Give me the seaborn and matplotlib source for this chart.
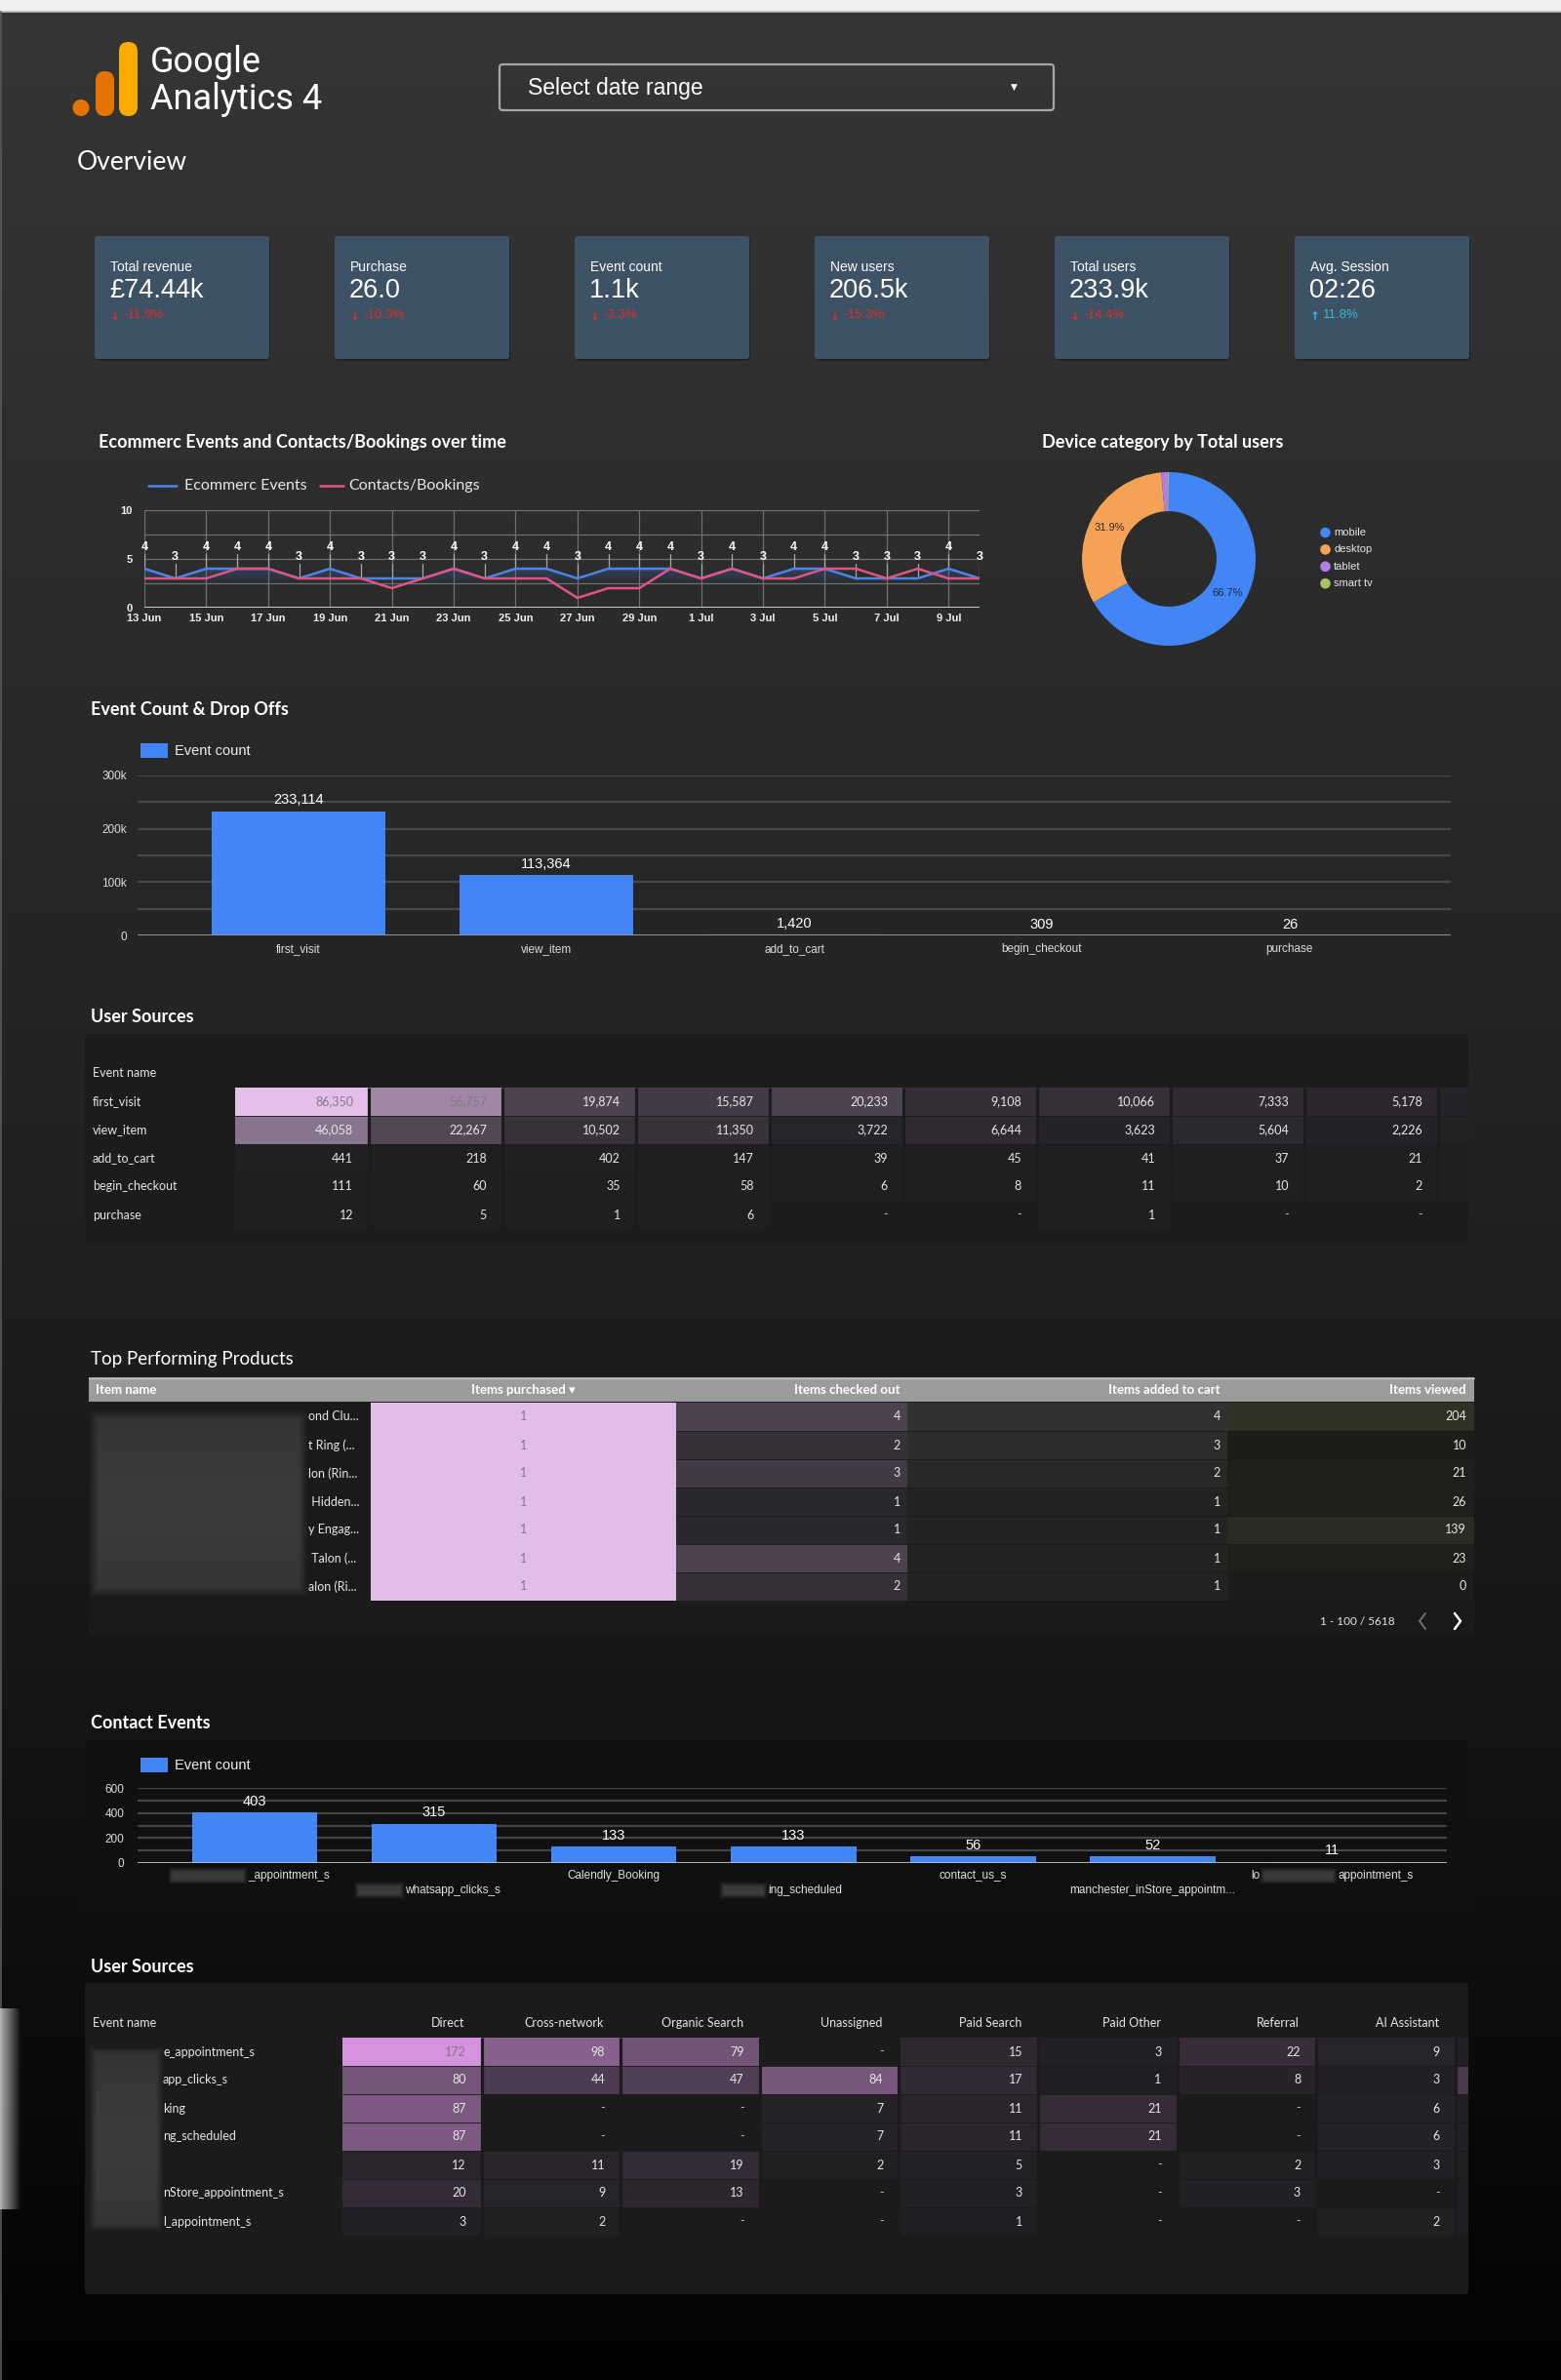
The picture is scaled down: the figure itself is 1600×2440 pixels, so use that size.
import numpy as np
import pandas as pd
import matplotlib
matplotlib.use("Agg")
import matplotlib.pyplot as plt
import seaborn as sns
from matplotlib.colors import LinearSegmentedColormap
from matplotlib.patches import FancyBboxPatch, Rectangle, Circle
from matplotlib.lines import Line2D

sns.set_theme(style="dark", rc={"axes.facecolor": "none", "figure.facecolor": "#050505",
                                "axes.edgecolor": "none", "patch.edgecolor": "none"})
plt.rcParams['font.family'] = ['Liberation Sans', 'DejaVu Sans']
plt.rcParams['axes.unicode_minus'] = False

nan = np.nan
# ---------------------------------------------------------------- data
kpi_labels = ["Total revenue", "Purchase", "Event count", "New users", "Total users", "Avg. Session"]
kpi_values = ["£74.44k", "26.0", "1.1k", "206.5k", "233.9k", "02:26"]
kpi_deltas = [-11.9, -10.3, -3.3, -15.3, -14.4, 11.8]

day_labels = ["13 Jun", "14 Jun", "15 Jun", "16 Jun", "17 Jun", "18 Jun", "19 Jun", "20 Jun",
              "21 Jun", "22 Jun", "23 Jun", "24 Jun", "25 Jun", "26 Jun", "27 Jun", "28 Jun",
              "29 Jun", "30 Jun", "1 Jul", "2 Jul", "3 Jul", "4 Jul", "5 Jul", "6 Jul",
              "7 Jul", "8 Jul", "9 Jul", "10 Jul"]
ecommerce_events = [4, 3, 4, 4, 4, 3, 4, 3, 3, 3, 4, 3, 4, 4, 3, 4, 4, 4, 3, 4, 3, 4, 4, 3, 3, 3, 4, 3]
contacts_bookings = [3, 3, 3, 4, 4, 3, 3, 3, 2, 3, 4, 3, 3, 3, 1, 2, 2, 4, 3, 4, 3, 3, 4, 4, 3, 4, 3, 3]

device_labels = ["mobile", "desktop", "tablet", "smart tv"]
device_share = [66.7, 31.9, 1.2, 0.2]

funnel_events = ["first_visit", "view_item", "add_to_cart", "begin_checkout", "purchase"]
funnel_counts = [233114, 113364, 1420, 309, 26]

src1_rows = ["first_visit", "view_item", "add_to_cart", "begin_checkout", "purchase"]
src1_first_visit = [86350, 56757, 19874, 15587, 20233, 9108, 10066, 7333, 5178, 3100]
src1_view_item = [46058, 22267, 10502, 11350, 3722, 6644, 3623, 5604, 2226, 1500]
src1_add_to_cart = [441, 218, 402, 147, 39, 45, 41, 37, 21, 15]
src1_begin_checkout = [111, 60, 35, 58, 6, 8, 11, 10, 2, 2]
src1_purchase = [12, 5, 1, 6, nan, nan, 1, nan, nan, nan]

product_headers = ["Item name", "Items purchased ▾", "Items checked out", "Items added to cart", "Items viewed"]
product_names = ["ond Clu...", "t Ring (...", "lon (Rin...", " Hidden...", "y Engag...", " Talon (...", "alon (Ri..."]
items_purchased = [1, 1, 1, 1, 1, 1, 1]
items_checked_out = [4, 2, 3, 1, 1, 4, 2]
items_added_to_cart = [4, 3, 2, 1, 1, 1, 1]
items_viewed = [204, 10, 21, 26, 139, 23, 0]
pagination = "1 - 100 / 5618"

contact_events = ["_appointment_s", "whatsapp_clicks_s", "Calendly_Booking", "ing_scheduled",
                  "contact_us_s", "manchester_inStore_appointm...", "appointment_s"]
contact_counts = [403, 315, 133, 133, 56, 52, 11]

src2_channels = ["Direct", "Cross-network", "Organic Search", "Unassigned", "Paid Search",
                 "Paid Other", "Referral", "AI Assistant", "Organic Social"]
src2_rows = ["e_appointment_s", "app_clicks_s", "king", "ng_scheduled", "",
             "nStore_appointment_s", "l_appointment_s"]
src2_r1 = [172, 98, 79, nan, 15, 3, 22, 9, 4]
src2_r2 = [80, 44, 47, 84, 17, 1, 8, 3, 40]
src2_r3 = [87, nan, nan, 7, 11, 21, nan, 6, 3]
src2_r4 = [87, nan, nan, 7, 11, 21, nan, 6, 3]
src2_r5 = [12, 11, 19, 2, 5, nan, 2, 3, 2]
src2_r6 = [20, 9, 13, nan, 3, nan, 3, nan, 1]
src2_r7 = [3, 2, nan, nan, 1, nan, nan, 2, 1]

# ---------------------------------------------------------------- helpers
W, H = 1600, 2440
fig = plt.figure(figsize=(W / 100, H / 100), dpi=100)
fig.patch.set_facecolor("#050505")


def px_ax(x, y, w, h):
    a = fig.add_axes([x / W, 1 - (y + h) / H, w / W, h / H])
    a.set_facecolor("none")
    return a


def canvas():
    a = px_ax(0, 0, W, H)
    a.set_xlim(0, W)
    a.set_ylim(H, 0)
    a.set_autoscale_on(False)
    a.axis("off")
    return a


BLUE = "#4285F4"
PINK = "#E0567F"

bg = canvas()
stops_y = [0, 12, 300, 700, 1050, 1400, 1750, 2050, 2350, 2440]
stops_g = [52, 53, 49, 42, 36, 29, 21, 13, 5, 3]
g = np.interp(np.arange(H), stops_y, stops_g) / 255.0
grad = np.repeat(g[:, None], 3, axis=1)[:, None, :]
bg.imshow(grad, extent=[0, W, H, 0], aspect="auto", interpolation="bilinear", zorder=0)
bg.add_patch(Rectangle((0, 0), W, 12, fc="#efefef", ec="none", zorder=1))
bg.plot([0, W], [12, 12], color="#bdbdbd", lw=1.2, zorder=2)
bg.plot([0.8, 0.8], [12, H], color="#5a5a5a", lw=1.2, zorder=2)
sh = np.zeros((10, 22, 4))
sh[..., :3] = 0.72
sh[..., 3] = np.linspace(0.95, 0.0, 22)[None, :]
bg.imshow(sh, extent=[0, 22, 2265, 2059], aspect="auto", interpolation="bilinear", zorder=2)

# KPI cards
for i in range(6):
    x = 97 + 246 * i
    bg.add_patch(FancyBboxPatch((x + 1, 244), 179, 126, boxstyle="round,pad=0,rounding_size=3",
                                fc="#1c1c1c", ec="none", alpha=0.6, zorder=2))
    bg.add_patch(FancyBboxPatch((x, 242), 179, 126, boxstyle="round,pad=0,rounding_size=3",
                                fc="#3e5266", ec="none", zorder=3))

# panels
bg.add_patch(FancyBboxPatch((87, 1060), 1418, 214, boxstyle="round,pad=0,rounding_size=3",
                            fc="#1c1c1c", ec="none", zorder=2))
bg.add_patch(Rectangle((91, 1437), 1420, 239, fc="#1a1a1a", ec="none", zorder=2))
bg.add_patch(Rectangle((91, 1412), 1420, 25, fc="#9b9b9b", ec="none", zorder=3))
bg.plot([91, 1511], [1412.5, 1412.5], color="#c4c4c4", lw=1, zorder=4)
bg.add_patch(FancyBboxPatch((87, 1783), 1418, 177, boxstyle="round,pad=0,rounding_size=3",
                            fc="#101010", ec="none", zorder=2))
bg.add_patch(FancyBboxPatch((87, 2033), 1418, 319, boxstyle="round,pad=0,rounding_size=3",
                            fc="#1b1b1b", ec="none", zorder=2))

# ---------------------------------------------------------------- line chart
ax = px_ax(148, 523, 856, 100)
xs = list(range(len(day_labels)))
sns.lineplot(x=xs, y=ecommerce_events, color="#4A86E8", lw=1.8, ax=ax, legend=False, zorder=4)
sns.lineplot(x=xs, y=contacts_bookings, color=PINK, lw=1.8, ax=ax, legend=False, zorder=5)
poly = ax.fill_between(xs, ecommerce_events, 0, facecolor="none", edgecolor="none")
gcm = LinearSegmentedColormap.from_list("g", [(0.26, 0.45, 0.85, 0.0), (0.26, 0.45, 0.85, 0.33)])
im = ax.imshow(np.linspace(0, 1, 128).reshape(-1, 1), extent=[0, 27, 2.4, 4.2], origin="lower",
               aspect="auto", cmap=gcm, zorder=2)
im.set_clip_path(poly.get_paths()[0], transform=ax.transData)
for i, v in enumerate(ecommerce_events):
    ax.plot([i, i], [v, v + 1.45], color="#a8a8a8", lw=0.9, zorder=3)
    ax.text(i, v + 2.15, str(v), ha="center", va="center", fontsize=9, color="white",
            fontweight="bold", clip_on=False, zorder=6)
ax.set_xlim(0, 27)
ax.set_ylim(0, 10)
ax.set_xticks(xs[::2])
ax.set_xticklabels(day_labels[::2])
ax.set_yticks([0, 5, 10])
ax.set_yticks([2.5, 7.5], minor=True)
ax.grid(True, axis="x", which="major", color="#707070", lw=0.9)
ax.grid(True, axis="y", which="both", color="#707070", lw=0.9)
ax.axhline(0, color="#c4c4c4", lw=2.2, zorder=3)
ax.tick_params(axis="both", which="both", length=0, colors="#f0f0f0", labelsize=8)
ax.tick_params(axis="x", pad=4)
ax.tick_params(axis="y", pad=9)
for lb in ax.get_xticklabels() + ax.get_yticklabels():
    lb.set_fontweight("bold")
for s in ax.spines.values():
    s.set_visible(False)

# ---------------------------------------------------------------- donut
ax = px_ax(1109, 484, 178, 178)
wedges, texts, autotexts = ax.pie(
    device_share, colors=["#4285F4", "#F5A257", "#B07EE8", "#A6C262"], startangle=90,
    counterclock=False, wedgeprops=dict(width=0.45, edgecolor="none", linewidth=0),
    autopct=lambda p: f"{p:.1f}%" if p > 5 else "", pctdistance=0.775,
    textprops=dict(fontsize=8, color="#1d2b44"))
autotexts[1].set_color("#3a2a1a")
ax.set_xlim(-1, 1)
ax.set_ylim(-1, 1)
ax.set_aspect("equal")

# ---------------------------------------------------------------- funnel bars
ax = px_ax(141, 795, 1346, 164)
sns.barplot(x=funnel_events, y=funnel_counts, color=BLUE, saturation=1, width=0.7, ax=ax,
            zorder=3, edgecolor="none", linewidth=0)
ax.set_xlim(-0.65, 4.65)
ax.set_ylim(0, 300000)
ax.set_yticks([0, 100000, 200000, 300000])
ax.set_yticklabels(["0", "100k", "200k", "300k"])
ax.set_yticks([50000, 150000, 250000], minor=True)
ax.grid(True, axis="y", which="both", color="#474747", lw=1.6, zorder=0)
ax.grid(False, axis="x")
ax.axhline(0, color="#9a9a9a", lw=2, zorder=4)
ax.bar_label(ax.containers[0], labels=[f"{v:,}" for v in funnel_counts], padding=3,
             color="white", fontsize=10.5)
ax.tick_params(axis="both", which="both", length=0, colors="#dcdcdc")
ax.tick_params(axis="x", labelsize=8.5, pad=6)
ax.tick_params(axis="y", labelsize=8.5, pad=8)
ax.set_xlabel("")
ax.set_ylabel("")
for s in ax.spines.values():
    s.set_visible(False)

# ---------------------------------------------------------------- heat tables


def heat(ax, data, c0, c1, vmax, xmax, inset, gap_color, fs=9, light_thr=0.6, ha="right"):
    arr = np.array(data, dtype=float)
    cm = LinearSegmentedColormap.from_list("h", [c0, c1])
    sns.heatmap(pd.DataFrame(arr), ax=ax, cmap=cm, vmin=0, vmax=vmax, cbar=False,
                mask=np.isnan(arr), xticklabels=False, yticklabels=False, linewidths=0)
    nr, nc = arr.shape
    ax.set_xlim(0, xmax)
    if nc > 1:
        ax.vlines(np.arange(1, nc), 0, nr, colors=gap_color, lw=2.3)
    ax.hlines(np.arange(1, nr), 0, nc, colors=gap_color, lw=0.6)
    for i in range(nr):
        for j in range(nc):
            xx = j + 0.5 if ha == "center" else j + 1 - inset
            if xx > xmax - 0.02:
                continue  # text lies in the part of the table that is scrolled off
            v = arr[i, j]
            if np.isnan(v):
                s, col = "-", "#bdbdbd"
            else:
                s = f"{int(v):,}"
                col = "#85788a" if v / vmax > light_thr else "#e6e6e6"
            ax.text(xx, i + 0.5, s, ha=ha, va="center", fontsize=fs, color=col,
                    family=["Lato", "DejaVu Sans"], clip_on=True)
    ax.axis("off")


src1 = [src1_first_visit, src1_view_item, src1_add_to_cart, src1_begin_checkout, src1_purchase]
ax = px_ax(241, 1115, 1264, 145)
heat(ax, src1, "#1f1e21", "#e3bfe9", max(src1_first_visit), 1264 / 137.0, 16 / 137.0, "#1c1c1c")

src2 = [src2_r1, src2_r2, src2_r3, src2_r4, src2_r5, src2_r6, src2_r7]
ax = px_ax(351, 2089, 1154, 203)
heat(ax, src2, "#1f1e21", "#d493dc", 172, 1154 / 142.6, 16 / 142.6, "#1b1b1b")

# products table columns
ax = px_ax(380, 1438, 313, 203)
heat(ax, [[v] for v in items_purchased], "#1c1c1c", "#e1bee7", 1, 1, 0, "#e1bee7", ha="center")
ax = px_ax(693, 1438, 237, 203)
heat(ax, [[v] for v in items_checked_out], "#1f1e21", "#4c4250", 4, 1, 7 / 237, "#1a1a1a", light_thr=2)
ax = px_ax(930, 1438, 328, 203)
heat(ax, [[v] for v in items_added_to_cart], "#1e1f1d", "#30322f", 4, 1, 7 / 328, "#1a1a1a", light_thr=2)
ax = px_ax(1258, 1438, 253, 203)
heat(ax, [[v] for v in items_viewed], "#1c1d1a", "#303124", 204, 1, 8 / 253, "#1a1a1a", light_thr=2)

# ---------------------------------------------------------------- contact bars
cax = px_ax(141, 1833, 1342, 77)
sns.barplot(x=contact_events, y=contact_counts, color=BLUE, saturation=1, width=0.7, ax=cax,
            zorder=3, edgecolor="none", linewidth=0)
cax.set_xlim(-0.652, 6.64)
cax.set_ylim(0, 600)
cax.set_yticks([0, 200, 400, 600])
cax.set_yticks([100, 300, 500], minor=True)
cax.grid(True, axis="y", which="both", color="#444444", lw=1.6, zorder=0)
cax.grid(False, axis="x")
cax.axhline(0, color="#bcbcbc", lw=2, zorder=4)
cax.bar_label(cax.containers[0], labels=[str(v) for v in contact_counts], padding=3,
              color="white", fontsize=10.5)
cax.set_xticks([])
cax.tick_params(axis="y", which="both", length=0, colors="#dcdcdc", labelsize=8.5, pad=10)
cax.set_xlabel("")
cax.set_ylabel("")
for s in cax.spines.values():
    s.set_visible(False)

# ---------------------------------------------------------------- overlay
ov = canvas()
ov.set_zorder(10)


def txt(x, y, s, size, color="#ffffff", ha="left", va="center", family="Lato", weight="normal"):
    return ov.text(x, y, s, fontsize=size, color=color, ha=ha, va=va,
                   family=[family, "DejaVu Sans"], fontweight=weight)


def blur_box(x0, y0, w, h, level=0.21, soft=9):
    nx, ny = int(w), int(h)
    xx = np.arange(nx) + 0.5
    yy = np.arange(ny) + 0.5
    a = np.clip(np.minimum.outer(np.minimum(yy, ny - yy) / soft, np.minimum(xx, nx - xx) / soft), 0, 1)
    img = np.zeros((ny, nx, 4))
    shade = level + 0.03 * np.sin(np.linspace(0, 3.0, ny))[:, None]
    img[..., 0] = shade
    img[..., 1] = shade
    img[..., 2] = shade
    img[..., 3] = a
    ov.imshow(img, extent=[x0, x0 + w, y0 + h, y0], aspect="auto", interpolation="bilinear", zorder=5)


# logo
ov.add_patch(FancyBboxPatch((122, 43), 19, 76, boxstyle="round,pad=0,rounding_size=9.5",
                            fc="#F9AB00", ec="none"))
ov.add_patch(FancyBboxPatch((98, 73), 19, 46, boxstyle="round,pad=0,rounding_size=9.5",
                            fc="#E37400", ec="none"))
ov.add_patch(Circle((83, 110.5), 8.5, fc="#E37400", ec="none"))
txt(154, 74, "Google", 26, family="Roboto", va="baseline")
txt(154, 112, "Analytics 4", 26, family="Roboto", va="baseline")

# date range
ov.add_patch(FancyBboxPatch((512, 66), 568, 47, boxstyle="round,pad=0,rounding_size=3",
                            fc="none", ec="#a6a6a6", lw=1.6))
txt(541, 90, "Select date range", 16.5, family="Liberation Sans")
txt(1039, 89, "▼", 6.5, ha="center", family="DejaVu Sans")

txt(79, 166, "Overview", 19)

# KPI texts
for i in range(6):
    x = 97 + 246 * i
    d = kpi_deltas[i]
    col = "#d93025" if d < 0 else "#35b9d6"
    txt(x + 16, 274, kpi_labels[i], 10, family="Liberation Sans")
    txt(x + 15, 298, kpi_values[i], 19.5, family="Liberation Sans")
    txt(x + 21, 324, "↓" if d < 0 else "↑", 8.5, color=col, ha="center", family="DejaVu Sans", weight="bold")
    txt(x + 29, 323, f"{d:.1f}%", 9.5, color=col, family="Liberation Sans")

# section titles
txt(101, 454, "Ecommerc Events and Contacts/Bookings over time", 13, weight="bold")
txt(1068, 454, "Device category by Total users", 13, weight="bold")
txt(93, 727, "Event Count & Drop Offs", 13, weight="bold")
txt(93, 1042, "User Sources", 13, weight="bold")
txt(93, 1394, "Top Performing Products", 13.5)
txt(93, 1767, "Contact Events", 13, weight="bold")
txt(93, 2017, "User Sources", 13, weight="bold")

# line chart legend
ov.add_line(Line2D([152, 181], [498, 498], color="#4A86E8", lw=1.8))
txt(189, 498, "Ecommerc Events", 11.5, color="#e8e8e8")
ov.add_line(Line2D([328, 352], [498, 498], color=PINK, lw=1.8))
txt(357, 498, "Contacts/Bookings", 11.5, color="#e8e8e8")

# donut legend
for k, (lab, c) in enumerate(zip(device_labels, ["#4285F4", "#F5A257", "#B07EE8", "#A6C262"])):
    yk = 546 + 17.4 * k
    ov.add_patch(Circle((1358.5, yk), 5.3, fc=c, ec="none"))
    txt(1367, yk, lab, 8, color="#e6e6e6", family="Liberation Sans")

# bar legends
ov.add_patch(Rectangle((144, 762), 28, 15, fc=BLUE, ec="none"))
txt(179, 770, "Event count", 10.5, color="#eeeeee", family="Liberation Sans")
ov.add_patch(Rectangle((144, 1802), 28, 15, fc=BLUE, ec="none"))
txt(179, 1810, "Event count", 10.5, color="#eeeeee", family="Liberation Sans")

# table 1 labels
txt(95, 1100, "Event name", 9, color="#e6e6e6")
for i, r in enumerate(src1_rows):
    txt(95, 1115 + 29 * (i + 0.5), r, 9, color="#e6e6e6")

# products labels
hdr_x = [98, 536, 923, 1251, 1503]
hdr_ha = ["left", "center", "right", "right", "right"]
for s, x, a in zip(product_headers, hdr_x, hdr_ha):
    txt(x, 1425, s, 9.5, color="#ffffff", ha=a, weight="bold")
blur_box(91, 1445, 225, 192, level=0.20, soft=10)
for i, nm in enumerate(product_names):
    txt(316, 1438 + 29 * (i + 0.5), nm, 9, color="#e6e6e6")
txt(1391, 1662, pagination, 8.5, color="#e6e6e6", ha="center")
ov.add_line(Line2D([1461, 1455, 1461], [1654, 1662, 1670], color="#6f6f6f", lw=1.4))
ov.add_line(Line2D([1491, 1497, 1491], [1654, 1662, 1670], color="#ffffff", lw=1.8))

# contact category labels
centers = [cax.transData.transform((i, 0))[0] for i in range(len(contact_events))]
row_y = [1923, 1938]
label_dx = [-7, -30, None, -26, None, None, 6]
blur_spans = {0: (-89, -7), 1: (-82, -30), 3: (-76, -26), 6: (-74, 6)}
for i, lab in enumerate(contact_events):
    yl = row_y[i % 2]
    cx = centers[i]
    if label_dx[i] is None:
        txt(cx, yl, lab, 8.5, color="#e0e0e0", ha="center", family="Liberation Sans")
    else:
        txt(cx + label_dx[i], yl, lab, 8.5, color="#e0e0e0", ha="left", family="Liberation Sans")
    if i in blur_spans:
        a0, a1 = blur_spans[i]
        blur_box(cx + a0, yl - 9, a1 - a0, 18, level=0.2, soft=5)
txt(centers[6] - 74, 1923, "lo", 8.5, color="#e0e0e0", ha="right", family="Liberation Sans")

# table 2 labels
txt(95, 2074, "Event name", 9, color="#e6e6e6")
for j, ch in enumerate(src2_channels[:8]):
    txt(351 + 142.6 * (j + 1) - 17, 2074, ch, 9, color="#e6e6e6", ha="right")
for i, r in enumerate(src2_rows):
    txt(167, 2089 + 29 * (i + 0.5), r, 9, color="#e6e6e6")
blur_box(91, 2098, 77, 190, level=0.20, soft=8)

fig.savefig("out.png", dpi=100, facecolor=fig.get_facecolor())
